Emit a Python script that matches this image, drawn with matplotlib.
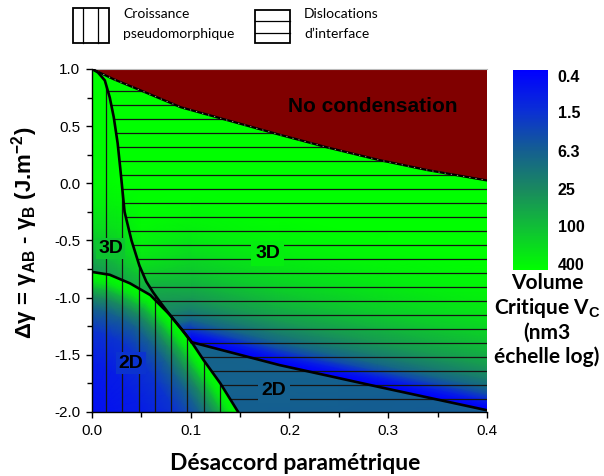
import numpy as np
import matplotlib
matplotlib.use("Agg")
import matplotlib.pyplot as plt
from matplotlib import ticker as mticker
from matplotlib.colors import LinearSegmentedColormap, LogNorm
from matplotlib.patches import Polygon, Rectangle
from matplotlib.cm import ScalarMappable

plt.rcParams['mathtext.fontset'] = 'custom'
plt.rcParams['mathtext.rm'] = 'Liberation Sans'
plt.rcParams['mathtext.bf'] = 'Liberation Sans:bold'

# --- phase boundaries (misfit, delta gamma in J/m2) ---
upper_x = [0.0, 0.022, 0.05, 0.09, 0.14, 0.19, 0.24, 0.29, 0.34, 0.4]
upper_y = [1.0, 0.91, 0.81, 0.665, 0.545, 0.425, 0.31, 0.205, 0.115, 0.025]

steep_x = [0.0, 0.006, 0.013, 0.018, 0.022, 0.026, 0.029, 0.033, 0.040, 0.048,
           0.055, 0.062, 0.070, 0.079, 0.092, 0.101]
steep_y = [1.0, 0.97, 0.90, 0.75, 0.58, 0.35, 0.10, -0.25, -0.50, -0.72,
           -0.86, -0.955, -1.05, -1.152, -1.29, -1.39]

arc_x = [0.0, 0.018, 0.0385, 0.059, 0.079, 0.092, 0.101, 0.113, 0.13, 0.148]
arc_y = [-0.775, -0.80, -0.875, -0.977, -1.152, -1.29, -1.39, -1.546, -1.75, -2.0]

line_x = [0.101, 0.19, 0.29, 0.4]
line_y = [-1.39, -1.59, -1.78, -1.985]

# --- critical volume Vc (nm3) ---
# 3D domain, regular grid
grid3d_x = [0.0, 0.025, 0.05, 0.1, 0.15, 0.2, 0.25, 0.3, 0.35, 0.4]
grid3d_y = [-2.0, -1.9, -1.8, -1.7, -1.6, -1.5, -1.4, -1.3, -1.2, -1.1,
            -1.0, -0.9, -0.8, -0.7, -0.6, -0.4, -0.2, 0.0, 1.0]
vc_3d = [
    [29, 45, 30, 0.4, 0.4, 0.4, 0.4, 0.4, 0.4, 0.4],
    [29, 45, 30, 0.4, 0.4, 0.4, 0.4, 0.4, 0.4, 1.3],
    [29, 45, 30, 0.4, 0.4, 0.4, 0.4, 0.4, 1.4, 6.2],
    [29, 45, 30, 0.4, 0.4, 0.4, 0.42, 1.6, 6.8, 19],
    [29, 45, 30, 0.4, 0.4, 0.46, 1.7, 7.2, 20, 40],
    [29, 45, 30, 0.4, 0.4, 1.8, 7.6, 21, 41, 73],
    [29, 45, 30, 0.4, 1.6, 8.4, 21, 42, 75, 112],
    [29, 45, 30, 1.0, 7.4, 22, 44, 77, 115, 160],
    [29, 45, 30, 7.2, 21, 45, 78, 118, 163, 212],
    [29, 45, 35, 18, 42, 80, 120, 167, 216, 265],
    [29, 45, 45, 40, 77, 122, 168, 220, 268, 325],
    [29, 45, 67, 72, 118, 170, 222, 271, 330, 378],
    [29, 51, 135, 115, 167, 225, 273, 334, 380, 450],
    [45, 89, 236, 165, 220, 275, 338, 383, 450, 500],
    [77, 135, 311, 200, 271, 340, 385, 500, 500, 500],
    [178, 236, 410, 340, 383, 500, 500, 500, 500, 500],
    [311, 357, 500, 470, 500, 500, 500, 500, 500, 500],
    [410, 500, 500, 500, 500, 500, 500, 500, 500, 500],
    [500, 500, 500, 500, 500, 500, 500, 500, 500, 500],
]

# 3D domain, profile above the dislocation line (height above the line)
band_height = [0.0, 0.03, 0.06, 0.09, 0.14, 0.2, 0.27, 0.39, 0.51, 0.64,
               0.76, 0.9, 1.05, 1.3]
vc_band = [0.33, 0.4, 0.6, 1.0, 3.2, 8, 16, 40, 77, 140, 205, 290, 380, 500]

# pseudomorphic 2D domain, profile from the arc towards the (0, -2) corner
pseudo_scale = [1.0, 0.98, 0.943, 0.914, 0.88, 0.82, 0.73, 0.57, 0.34, 0.0]
vc_pseudo = [500, 450, 330, 180, 77, 25, 6.4, 1.6, 0.8, 0.5]

# 2D domain with interface dislocations
grid2d_x = [0.1, 0.25, 0.4]
grid2d_y = [-2.0, -1.4]
vc_2d_disloc = [
    [6.5, 6.0, 5.5],
    [7.5, 7.0, 6.5],
]

cbar_ticks = [0.4, 1.5, 6.3, 25, 100, 400]
cbar_labels = ["0.4", "1.5", "6.3", "25", "100", "400"]

cmap = LinearSegmentedColormap.from_list("vc", [
    (0.0, (0.0, 0.0, 1.0)),
    (0.2, (0.04, 0.18, 0.84)),
    (0.4, (0.08, 0.37, 0.57)),
    (0.6, (0.10, 0.54, 0.37)),
    (0.8, (0.06, 0.76, 0.20)),
    (1.0, (0.0, 1.0, 0.0)),
])
norm = LogNorm(vmin=0.32, vmax=500)

fig = plt.figure(figsize=(6.04, 4.76), dpi=100)
ax = fig.add_axes([0.1523, 0.1345, 0.654, 0.7206])
ax.set_xlim(0, 0.4)
ax.set_ylim(-2.0, 1.0)


def region(xs, ys):
    return Polygon(np.column_stack([xs, ys]), closed=True, transform=ax.transData)


ux, uy = np.array(upper_x), np.array(upper_y)
sx, sy = np.array(steep_x), np.array(steep_y)
axx, ayy = np.array(arc_x), np.array(arc_y)
lx, ly = np.array(line_x), np.array(line_y)
junction = sx[-1]
tail = axx > junction
head = axx <= junction

# left boundary of the dislocation-free growth (steep curve, then arc)
left_bx = np.concatenate([sx, axx[tail]])
left_by = np.concatenate([sy, ayy[tail]])

clip_3d = region(np.concatenate([ux, lx[::-1], axx[head][::-1]]),
                 np.concatenate([uy, ly[::-1], ayy[head][::-1]]))
clip_band = region(np.concatenate([ux, lx[::-1]]), np.concatenate([uy, ly[::-1]]))
clip_pseudo = region(np.concatenate([axx, [0.0]]), np.concatenate([ayy, [-2.0]]))
clip_disloc = region(np.concatenate([lx, [0.4], axx[tail][::-1]]),
                     np.concatenate([ly, [-2.0], ayy[tail][::-1]]))
clip_vert = region(np.concatenate([left_bx, [0.0]]), np.concatenate([left_by, [-2.0]]))
clip_horiz = region(np.concatenate([ux, [0.4], left_bx[::-1]]),
                    np.concatenate([uy, [-2.0], left_by[::-1]]))

m = ax.pcolormesh(grid3d_x, grid3d_y, np.array(vc_3d), shading='gouraud',
                  cmap=cmap, norm=norm, zorder=1)
m.set_clip_path(clip_3d)

# band following the dislocation line
bh = np.array(band_height)
bx = lx[:, None] + 0 * bh[None, :]
by = ly[:, None] + bh[None, :]
m = ax.pcolormesh(bx, by, np.tile(vc_band, (len(lx), 1)), shading='gouraud',
                  cmap=cmap, norm=norm, zorder=1.1)
m.set_clip_path(clip_band)

# pseudomorphic domain: arc shrunk towards the lower-left corner
sc = np.array(pseudo_scale)
px = axx[:, None] * sc[None, :]
py = -2.0 + (ayy[:, None] + 2.0) * sc[None, :]
m = ax.pcolormesh(px, py, np.tile(vc_pseudo, (len(axx), 1)), shading='gouraud',
                  cmap=cmap, norm=norm, zorder=1)
m.set_clip_path(clip_pseudo)

m = ax.pcolormesh(grid2d_x, grid2d_y, np.array(vc_2d_disloc), shading='gouraud',
                  cmap=cmap, norm=norm, zorder=1)
m.set_clip_path(clip_disloc)

# no condensation
ax.fill(np.concatenate([ux, [0.4]]), np.concatenate([uy, [1.0]]),
        color='#800000', lw=0, zorder=2)

# hatching: vertical = pseudomorphic growth, horizontal = interface dislocations
hatch_y = -1.885 + 0.1225 * np.arange(23)
hatch_x = 0.0142 + 0.0165 * np.arange(8)
hl = ax.hlines(hatch_y, 0, 0.4, colors='#151515', lw=0.9, zorder=3)
hl.set_clip_path(clip_horiz)
vl = ax.vlines(hatch_x, -2.0, 1.0, colors='#151515', lw=0.9, zorder=3)
vl.set_clip_path(clip_vert)

ax.plot(upper_x, upper_y, color='black', lw=1.6, zorder=4)
ax.plot(upper_x, upper_y, color='#b8b89a', lw=0.6, dashes=(1.5, 6), zorder=4)
ax.plot(steep_x, steep_y, color='black', lw=1.9, zorder=4)
ax.plot(arc_x, arc_y, color='black', lw=1.9, zorder=4)
ax.plot(line_x, line_y, color='black', lw=1.9, zorder=4)

lab_kw = dict(fontsize=14, fontweight='bold', family='Liberation Sans',
              ha='center', va='center', zorder=5)
ax.text(0.2838, 0.668, "No condensation", **dict(lab_kw, fontsize=15))
ax.text(0.0188, -0.569, "3D", bbox=dict(boxstyle='square,pad=0.1', fc=cmap(norm(125)), ec='none'), **lab_kw)
ax.text(0.178, -0.617, "3D", bbox=dict(boxstyle='square,pad=0.2', fc=cmap(norm(330)), ec='none'), **lab_kw)
ax.text(0.0395, -1.572, "2D", bbox=dict(boxstyle='square,pad=0.15', fc=cmap(norm(1.6)), ec='none'), **lab_kw)
ax.text(0.1845, -1.81, "2D", bbox=dict(boxstyle='square,pad=0.2', fc=cmap(norm(6.5)), ec='none'), **lab_kw)

ax.xaxis.set_major_locator(mticker.MultipleLocator(0.1))
ax.xaxis.set_minor_locator(mticker.MultipleLocator(0.05))
ax.yaxis.set_major_locator(mticker.MultipleLocator(0.5))
ax.yaxis.set_minor_locator(mticker.MultipleLocator(0.25))
ax.xaxis.set_major_formatter(mticker.FormatStrFormatter('%.1f'))
ax.yaxis.set_major_formatter(mticker.FormatStrFormatter('%.1f'))
ax.tick_params(which='both', direction='out', width=1, labelsize=11)
ax.tick_params(which='major', length=4.5, pad=4)
ax.tick_params(which='minor', length=3.5)
for lab in ax.get_xticklabels() + ax.get_yticklabels():
    lab.set_family('Liberation Sans')
for s in ('left', 'bottom'):
    ax.spines[s].set_linewidth(1.0)
ax.spines['right'].set_visible(False)
ax.spines['top'].set_color('#bbbbbb')
ax.spines['top'].set_linewidth(0.8)

ax.set_xlabel("Désaccord paramétrique", family='Lato', fontweight='bold', fontsize=16.5)
ax.xaxis.set_label_coords(0.515, -0.149)
ax.xaxis.label.set_va('center')
ax.set_ylabel(r"Δγ = γ$_{\mathbf{AB}}$ - γ$_{\mathbf{B}}$ (J.m$^{\mathbf{-2}}$)",
              family='Liberation Sans', fontweight='bold', fontsize=16)
ax.yaxis.set_label_coords(-0.17, 0.522)
ax.yaxis.label.set_va('center')

# colour scale
cax = fig.add_axes([0.8493, 0.4328, 0.058, 0.420])
cb = fig.colorbar(ScalarMappable(norm=norm, cmap=cmap), cax=cax)
cb.outline.set_visible(False)
cb.minorticks_off()
cb.set_ticks(cbar_ticks)
cb.set_ticklabels(cbar_labels)
cax.invert_yaxis()
cax.tick_params(length=0, pad=7, labelsize=11.5)
for lab in cax.get_yticklabels():
    lab.set_fontweight('bold')
    lab.set_family('Liberation Sans')

cb_kw = dict(family='Lato', fontweight='bold', fontsize=15, ha='center', va='center')
for txt, ypix in [("Volume", 283), ("Critique V$_{\\mathbf{C}}$", 308),
                  ("(nm3", 333), ("échelle log)", 357)]:
    fig.text(547 / 604, 1 - ypix / 476, txt, **cb_kw)

# legend boxes above the plot, in pixel coordinates
lg = fig.add_axes([0, 0, 1, 1])
lg.set_xlim(0, 604)
lg.set_ylim(476, 0)
lg.axis('off')
lg.add_patch(Rectangle((73, 8.3), 35.5, 34.4, fill=False, ec='black', lw=1.3))
for xv in (83.3, 97.7):
    lg.plot([xv, xv], [8.3, 42.7], color='black', lw=0.9)
lg.add_patch(Rectangle((255, 10), 35, 33.3, fill=False, ec='black', lw=1.3))
for yv in (20.7, 33.3):
    lg.plot([255, 290], [yv, yv], color='black', lw=0.9)
leg_kw = dict(family='Lato', fontsize=10, ha='left', va='center')
lg.text(123, 14.5, "Croissance", **leg_kw)
lg.text(123, 33.5, "pseudomorphique", **leg_kw)
lg.text(304, 14.5, "Dislocations", **leg_kw)
lg.text(304, 33.5, "d’interface", **leg_kw)

fig.savefig("out.png", dpi=100)
